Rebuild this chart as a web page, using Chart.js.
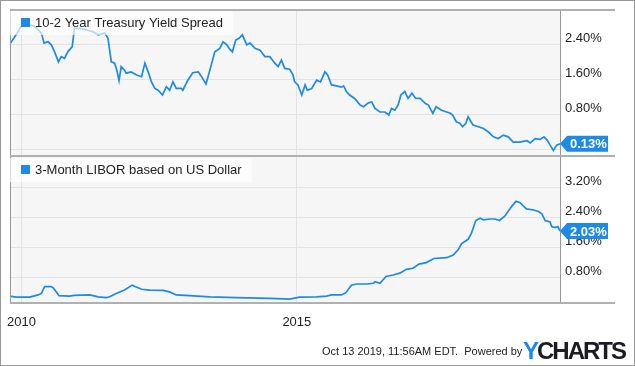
<!DOCTYPE html>
<html>
<head>
<meta charset="utf-8">
<script src="https://cdn.jsdelivr.net/npm/chart.js@4.4.1/dist/chart.umd.min.js"></script>
<style>
  body { margin: 0; background: #fff; font-family: "Liberation Sans", Arial, sans-serif; }
  #wrap { position: relative; width: 635px; height: 366px; overflow: hidden; }
  canvas { position: absolute; left: 0; }
  #top { top: 0; }
  #bottom { top: 156px; }
  #frame { position: absolute; left: 0; top: 0; width: 635px; height: 366px; box-sizing: border-box; border: 1px solid #999; pointer-events: none; }
  #stamp { position: absolute; left: 322px; top: 345px; font-size: 11px; color: #222; white-space: pre; }
  #logo { position: absolute; left: 523px; top: 337px; font-size: 24px; font-weight: bold; color: #1b1b24; letter-spacing: -2px; }
  #logo span { color: #1c8ae6; }
</style>
</head>
<body>
<div id="wrap">
  <canvas id="top" width="635" height="157"></canvas>
  <canvas id="bottom" width="635" height="210"></canvas>
  <div id="stamp">Oct 13 2019, 11:56AM EDT.  Powered by</div>
  <div id="logo"><span>Y</span>CHARTS</div>
  <div id="frame"></div>
</div>
<script>
// dates as decimal years
const spreadYears = [2009.80, 2009.90, 2009.99, 2010.15, 2010.24, 2010.36, 2010.41, 2010.48, 2010.54, 2010.60,
  2010.67, 2010.72, 2010.78, 2010.84, 2010.92, 2010.96, 2011.05, 2011.18, 2011.30, 2011.39,
  2011.51, 2011.57, 2011.63, 2011.69, 2011.73, 2011.77, 2011.81, 2011.87, 2011.90, 2011.99,
  2012.09, 2012.18, 2012.24, 2012.30, 2012.36, 2012.42, 2012.48, 2012.56, 2012.63, 2012.69,
  2012.75, 2012.81, 2012.90, 2012.93, 2013.02, 2013.11, 2013.21, 2013.27, 2013.35, 2013.42,
  2013.51, 2013.60, 2013.66, 2013.73, 2013.78, 2013.83, 2013.89, 2013.95, 2014.01, 2014.09,
  2014.15, 2014.24, 2014.33, 2014.42, 2014.51, 2014.60, 2014.66, 2014.72, 2014.78, 2014.87,
  2014.93, 2014.96, 2015.02, 2015.09, 2015.15, 2015.19, 2015.27, 2015.36, 2015.43, 2015.51,
  2015.56, 2015.63, 2015.72, 2015.81, 2015.85, 2015.90, 2015.96, 2016.05, 2016.15, 2016.21,
  2016.30, 2016.36, 2016.42, 2016.51, 2016.60, 2016.67, 2016.72, 2016.78, 2016.84, 2016.89,
  2016.96, 2017.02, 2017.09, 2017.16, 2017.24, 2017.33, 2017.39, 2017.47, 2017.53, 2017.63,
  2017.72, 2017.79, 2017.83, 2017.90, 2017.96, 2018.01, 2018.07, 2018.11, 2018.20, 2018.30,
  2018.39, 2018.48, 2018.57, 2018.66, 2018.75, 2018.84, 2018.93, 2019.05, 2019.18, 2019.24,
  2019.33, 2019.42, 2019.49, 2019.55, 2019.60, 2019.66, 2019.72, 2019.78];
const spreadValues = [2.44, 2.63, 2.82, 2.86, 2.82, 2.67, 2.44, 2.47, 2.40, 2.24,
  2.01, 2.13, 2.09, 2.24, 2.36, 2.78, 2.78, 2.74, 2.70, 2.63,
  2.67, 2.55, 2.01, 1.98, 1.82, 1.58, 1.90, 1.82, 1.75, 1.78,
  1.71, 1.67, 1.98, 1.78, 1.55, 1.40, 1.36, 1.25, 1.44, 1.36,
  1.55, 1.40, 1.40, 1.36, 1.59, 1.76, 1.78, 1.67, 1.50, 1.82,
  2.24, 2.32, 2.47, 2.40, 2.30, 2.24, 2.51, 2.55, 2.63, 2.40,
  2.44, 2.32, 2.28, 2.13, 2.13, 1.98, 1.90, 2.05, 1.86, 1.84,
  1.71, 1.55, 1.48, 1.25, 1.48, 1.36, 1.40, 1.59, 1.55, 1.78,
  1.71, 1.48, 1.46, 1.43, 1.46, 1.33, 1.25, 1.17, 1.02, 0.98,
  1.07, 1.09, 0.94, 0.86, 0.86, 0.79, 0.94, 0.90, 1.02, 1.25,
  1.33, 1.17, 1.29, 1.17, 1.17, 1.06, 1.02, 0.83, 0.98, 0.90,
  0.86, 0.83, 0.79, 0.63, 0.60, 0.52, 0.60, 0.75, 0.56, 0.52,
  0.48, 0.40, 0.29, 0.25, 0.33, 0.29, 0.17, 0.17, 0.20, 0.15,
  0.25, 0.23, 0.29, 0.21, 0.10, -0.02, 0.10, 0.13];

const liborYears = [2009.79, 2009.90, 2010.15, 2010.30, 2010.36, 2010.42, 2010.54, 2010.58, 2010.68, 2010.87,
  2010.96, 2011.24, 2011.39, 2011.54, 2011.60, 2011.72, 2011.87, 2012.01, 2012.07, 2012.18,
  2012.33, 2012.57, 2012.69, 2012.81, 2013.05, 2013.42, 2013.90, 2014.51, 2014.87, 2015.05,
  2015.36, 2015.54, 2015.63, 2015.81, 2015.89, 2015.99, 2016.09, 2016.27, 2016.39, 2016.42,
  2016.51, 2016.62, 2016.75, 2016.87, 2016.99, 2017.11, 2017.22, 2017.35, 2017.49, 2017.72,
  2017.84, 2017.93, 2017.99, 2018.11, 2018.17, 2018.25, 2018.33, 2018.39, 2018.51, 2018.60,
  2018.68, 2018.78, 2018.90, 2018.98, 2019.05, 2019.17, 2019.30, 2019.39, 2019.45, 2019.51,
  2019.60, 2019.63, 2019.69, 2019.74, 2019.78];
const liborValues = [0.30, 0.27, 0.27, 0.33, 0.37, 0.55, 0.55, 0.51, 0.31, 0.30,
  0.32, 0.33, 0.28, 0.26, 0.28, 0.37, 0.46, 0.59, 0.55, 0.48,
  0.46, 0.45, 0.41, 0.33, 0.31, 0.28, 0.26, 0.24, 0.22, 0.27,
  0.28, 0.30, 0.33, 0.33, 0.39, 0.59, 0.62, 0.62, 0.64, 0.68,
  0.64, 0.82, 0.86, 0.91, 1.01, 1.04, 1.15, 1.19, 1.30, 1.32,
  1.39, 1.53, 1.69, 1.81, 1.97, 2.31, 2.37, 2.33, 2.35, 2.35,
  2.31, 2.43, 2.68, 2.82, 2.79, 2.62, 2.59, 2.55, 2.49, 2.31,
  2.27, 2.15, 2.12, 2.15, 2.03];

const yearTicks = [2010, 2015];
const spreadTicks = [0, 0.8, 1.6, 2.4];
const liborTicks = [0.8, 1.6, 2.4, 3.2];

const blue = '#1c8ae6';
const gridColor = '#e3e3e3';
const font = { family: '"Liberation Sans", Arial, sans-serif', size: 13 };

function xAxis(showLabels) {
  return {
    type: 'linear',
    min: 2009.79,
    max: 2019.78,
    afterBuildTicks: s => { s.ticks = yearTicks.map(v => ({ value: v })); },
    afterFit: s => { s.height = showLabels ? 30 : 0; s.paddingLeft = 0; s.paddingRight = 0; },
    grid: { color: gridColor, drawTicks: false },
    border: { display: false },
    ticks: { display: showLabels, autoSkip: false, maxRotation: 0, padding: 12, color: '#222', font, callback: v => String(v) }
  };
}

function yAxis(min, max, tickVals) {
  return {
    position: 'right',
    min, max,
    afterBuildTicks: s => { s.ticks = tickVals.map(v => ({ value: v })); },
    afterFit: s => { s.width = 75; s.paddingTop = 0; s.paddingBottom = 0; },
    grid: { color: gridColor, drawTicks: false },
    border: { display: false },
    ticks: { padding: 5, labelOffset: -6, color: '#222', font, autoSkip: false,
      callback: v => v === 0 ? '' : v.toFixed(2) + '%' }
  };
}

const panel = {
  id: 'panel',
  beforeDraw(chart) {
    const { ctx, chartArea: a } = chart;
    ctx.save();
    ctx.fillStyle = '#f6f6f6';
    ctx.fillRect(a.left, a.top, a.right - a.left, a.bottom - a.top);
    ctx.restore();
  },
  afterDraw(chart, args, opts) {
    const { ctx, chartArea: a } = chart;
    ctx.save();
    // frame
    ctx.strokeStyle = '#999';
    ctx.lineWidth = 1;
    ctx.beginPath();
    ctx.moveTo(a.left + 0.5, a.top); ctx.lineTo(a.left + 0.5, a.bottom);
    ctx.moveTo(a.right + 0.5, a.top); ctx.lineTo(a.right + 0.5, a.bottom);
    ctx.stroke();
    ctx.strokeStyle = '#b0b0b0';
    ctx.lineWidth = 2;
    ctx.beginPath();
    if (opts.topLine) { ctx.moveTo(a.left, a.top); ctx.lineTo(615, a.top); }
    ctx.moveTo(a.left, a.bottom); ctx.lineTo(615, a.bottom);
    ctx.stroke();

    // legend box
    ctx.font = '13px "Liberation Sans", Arial, sans-serif';
    const label = chart.data.datasets[0].label;
    const tw = ctx.measureText(label).width;
    ctx.fillStyle = 'rgba(255,255,255,0.65)';
    ctx.fillRect(a.left, a.top + 1, tw + 35, 24);
    ctx.fillStyle = blue;
    ctx.fillRect(a.left + 11, a.top + 8, 9, 9);
    ctx.fillStyle = '#222';
    ctx.textBaseline = 'middle';
    ctx.fillText(label, a.left + 25, a.top + 13);

    // last value flag
    const meta = chart.getDatasetMeta(0);
    const pt = meta.data[meta.data.length - 1];
    const last = chart.data.datasets[0].data[meta.data.length - 1].y;
    const x = a.right, y = pt.y;
    ctx.fillStyle = blue;
    ctx.beginPath();
    ctx.moveTo(x, y);
    ctx.lineTo(x + 7, y - 8);
    ctx.lineTo(x + 48, y - 8);
    ctx.lineTo(x + 48, y + 8);
    ctx.lineTo(x + 7, y + 8);
    ctx.closePath();
    ctx.fill();
    ctx.fillStyle = '#fff';
    ctx.font = 'bold 13px "Liberation Sans", Arial, sans-serif';
    ctx.fillText(last.toFixed(2) + '%', x + 10, y + 1);
    ctx.restore();
  }
};

function makeChart(id, label, xs, ys, yMin, yMax, ticks, showX, padding, topLine) {
  return new Chart(document.getElementById(id), {
    type: 'line',
    data: {
      datasets: [{
        label,
        data: xs.map((x, i) => ({ x, y: ys[i] })),
        borderColor: blue,
        borderWidth: 1.7,
        pointRadius: 0,
        tension: 0
      }]
    },
    options: {
      responsive: false,
      animation: false,
      devicePixelRatio: 1,
      layout: { padding },
      plugins: { legend: { display: false }, tooltip: { enabled: false }, panel: { topLine } },
      scales: { x: xAxis(showX), y: yAxis(yMin, yMax, ticks) }
    },
    plugins: [panel]
  });
}

makeChart('top', '10-2 Year Treasury Yield Spread', spreadYears, spreadValues,
  -0.15, 3.2, spreadTicks, false, { left: 10, top: 10, right: 0, bottom: 1 }, true);
makeChart('bottom', '3-Month LIBOR based on US Dollar', liborYears, liborValues,
  0.115, 4.0, liborTicks, true, { left: 10, top: 1, right: 0, bottom: 33 }, false);
</script>
</body>
</html>
